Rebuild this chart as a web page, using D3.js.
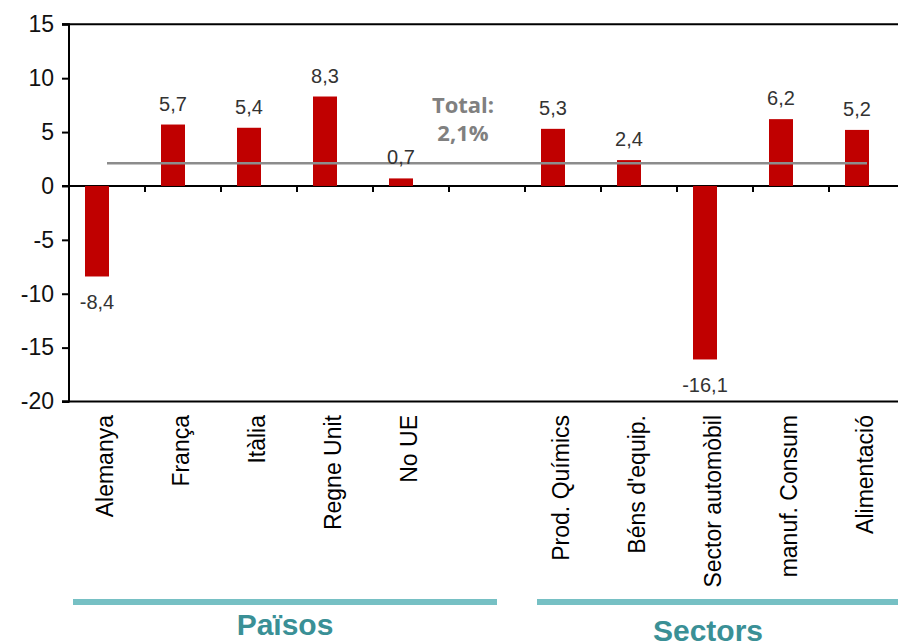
<!DOCTYPE html>
<html>
<head>
<meta charset="utf-8">
<script src="https://cdn.jsdelivr.net/npm/d3@7"></script>
<style>
  body { margin: 0; background: #fff; }
  svg { display: block; }
</style>
</head>
<body>
<div id="chart"></div>
<script>
// Chart data
const categories = ["Alemanya", "França", "Itàlia", "Regne Unit", "No UE", "",
    "Prod. Químics", "Béns d'equip.", "Sector automòbil", "manuf. Consum", "Alimentació"];
const values = [-8.4, 5.7, 5.4, 8.3, 0.7, null, 5.3, 2.4, -16.1, 6.2, 5.2];
const totalValue = 2.1;
const yTicks = [-20, -15, -10, -5, 0, 5, 10, 15];
const groups = [
    { name: "Països", from: 0, to: 4 },
    { name: "Sectors", from: 6, to: 10 }
];

const width = 898;
const height = 643;

const svg = d3.select("#chart")
    .append("svg")
    .attr("width", width)
    .attr("height", height);

// Scales
const x = d3.scaleBand()
    .domain(d3.range(categories.length))
    .range([69, 905])
    .padding(0);

const y = d3.scaleLinear()
    .domain([-20, 15])
    .range([401.5, 24.3]);

// comma decimals, plain hyphen for negatives
const fmt = v => d3.format(".1f")(v).replace(".", ",").replace("\u2212", "-");

// Top and bottom frame lines
[15, -20].forEach(v => {
    svg.append("line")
        .attr("x1", 62).attr("x2", width)
        .attr("y1", y(v)).attr("y2", y(v))
        .style("stroke", "#000").style("stroke-width", 2);
});

// Y axis
const yAxis = svg.append("g")
    .attr("transform", "translate(69,0)")
    .call(d3.axisLeft(y).tickValues(yTicks).tickSize(7).tickPadding(8).tickFormat(d => String(d)));
yAxis.select(".domain").style("stroke", "#000").style("stroke-width", 2)
    .attr("d", `M-7,${y(15)}H0V${y(-20)}H-7`);
yAxis.selectAll(".tick line").style("stroke", "#000").style("stroke-width", 2);
yAxis.selectAll(".tick text")
    .style("font-family", "'Liberation Sans', Arial, sans-serif")
    .style("font-size", "23px")
    .style("fill", "#111");

// Zero line with category ticks
svg.append("line")
    .attr("x1", 62).attr("x2", width)
    .attr("y1", y(0)).attr("y2", y(0))
    .style("stroke", "#000").style("stroke-width", 2);

svg.selectAll(".xtick")
    .data(d3.range(1, categories.length))
    .enter()
    .append("line")
    .attr("class", "xtick")
    .attr("x1", d => x(d)).attr("x2", d => x(d))
    .attr("y1", y(0)).attr("y2", y(0) + 6)
    .style("stroke", "#000").style("stroke-width", 2);

// Bars
const barData = values.map((v, i) => ({ i, v })).filter(d => d.v !== null);

svg.selectAll(".bar")
    .data(barData)
    .enter()
    .append("rect")
    .attr("class", "bar")
    .attr("x", d => x(d.i) + 16)
    .attr("width", 24)
    .attr("y", d => y(Math.max(0, d.v)))
    .attr("height", d => Math.abs(y(d.v) - y(0)))
    .style("fill", "#c00000");

// Total line
svg.append("line")
    .attr("x1", x(0) + x.bandwidth() / 2)
    .attr("x2", x(categories.length - 1) + 38)
    .attr("y1", y(totalValue)).attr("y2", y(totalValue))
    .style("stroke", "#8c8c8c").style("stroke-width", 2.5);

// Value labels
svg.selectAll(".vlabel")
    .data(barData)
    .enter()
    .append("text")
    .attr("class", "vlabel")
    .attr("x", d => x(d.i) + 28)
    .attr("y", d => d.v >= 0 ? y(d.v) - 14 : y(d.v) + 33)
    .attr("text-anchor", "middle")
    .style("font-family", "'Liberation Sans', Arial, sans-serif")
    .style("font-size", "20px")
    .style("fill", "#333")
    .text(d => fmt(d.v));

// Total annotation
const totalText = svg.append("text")
    .attr("text-anchor", "middle")
    .style("font-family", "'Open Sans', sans-serif")
    .style("font-weight", "bold")
    .style("font-size", "22px")
    .style("fill", "#808080");
totalText.append("tspan").attr("x", x(5) + 14).attr("y", 113).text("Total:");
totalText.append("tspan").attr("x", x(5) + 14).attr("y", 141).text(fmt(totalValue) + "%");

// Category labels, rotated
svg.selectAll(".clabel")
    .data(categories.map((c, i) => ({ c, i })).filter(d => d.c !== ""))
    .enter()
    .append("text")
    .attr("class", "clabel")
    .attr("transform", d => `translate(${x(d.i) + x.bandwidth() / 2 + 6},415) rotate(-90)`)
    .attr("text-anchor", "end")
    .style("font-family", "'Liberation Sans', Arial, sans-serif")
    .style("font-size", "23px")
    .style("fill", "#000")
    .text(d => d.c);

// Group lines and names
const groupLeft = [73, 537];
const groupRight = [497, width];
groups.forEach((g, k) => {
    svg.append("line")
        .attr("x1", groupLeft[k]).attr("x2", groupRight[k])
        .attr("y1", 602).attr("y2", 602)
        .style("stroke", "#76c0c4").style("stroke-width", 6);
    svg.append("text")
        .attr("x", k === 0 ? 285 : 708)
        .attr("y", k === 0 ? 635 : 641)
        .attr("text-anchor", "middle")
        .style("font-family", "'Liberation Sans', Arial, sans-serif")
        .style("font-weight", "bold")
        .style("font-size", "30px")
        .style("fill", "#3a9096")
        .text(g.name);
});
</script>
</body>
</html>
